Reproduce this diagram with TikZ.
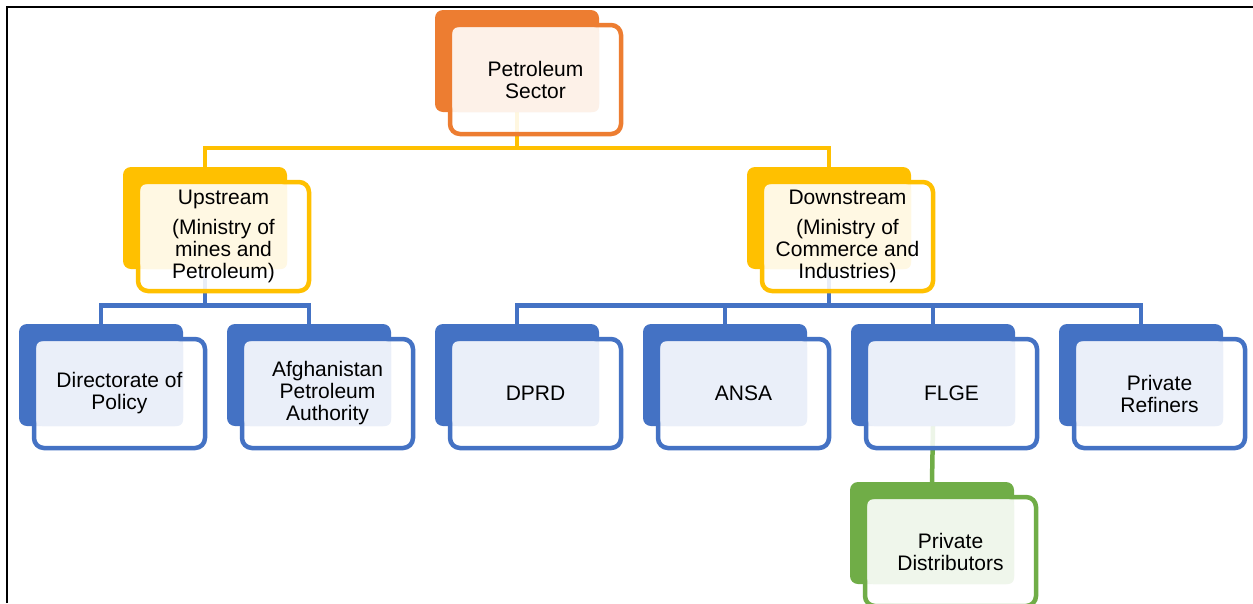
\documentclass[tikz,border=0pt]{standalone}
\usepackage{fontspec}
\setmainfont{Liberation Sans}
\usetikzlibrary{calc,backgrounds}
\definecolor{cOr}{HTML}{ED7D31}
\definecolor{cYe}{HTML}{FFC000}
\definecolor{cBl}{HTML}{4472C4}
\definecolor{cGr}{HTML}{70AD47}
\tikzset{
  backbox/.style={rectangle, rounded corners=8pt, draw=none, outer sep=0pt, inner sep=0pt,
    minimum width=164pt, minimum height=102pt, anchor=north west},
  frontbox/.style={rectangle, rounded corners=10pt, fill=white, fill opacity=0.88, line width=4.5pt,
    outer sep=0pt, inner sep=0pt, minimum width=171pt, minimum height=109pt, anchor=north west},
  lbl/.style={align=center, inner sep=0pt, text=black, font=\fontsize{21}{22}\selectfont},
  conn/.style={line width=4.5pt},
}
\newcommand{\orgbox}[5]{%
  \node[backbox, fill=#4] (#1-b) at (#2,#3) {};
  \node[frontbox, draw=#4] (#1-f) at ($(#1-b.north west)+(15,15)$) {};
  \fill[#4!11!white, rounded corners=6pt] ($(#1-f.north west)+(2.25,2.25)$) rectangle (#1-b.south east);
  \node[lbl] (#1) at (#1-f.center) {#5};
}
\begin{document}
\begin{tikzpicture}[x=1pt,y=-1pt]
\useasboundingbox (0,0) rectangle (1253,603);
\clip (0,0) rectangle (1253,603);
\draw[line width=2pt, black] (6.5,603) -- (6.5,6.5) -- (1253,6.5);

\orgbox{P}{435}{10}{cOr}{Petroleum\\Sector}
\orgbox{U}{123}{167}{cYe}{Upstream\\[8pt](Ministry of\\mines and\\Petroleum)}
\orgbox{D}{747}{167}{cYe}{Downstream\\[8pt](Ministry of\\Commerce and\\Industries)}
\orgbox{Dir}{19}{324}{cBl}{Directorate of\\Policy}
\orgbox{API}{227}{324}{cBl}{Afghanistan\\Petroleum\\Authority}
\orgbox{DPRD}{435}{324}{cBl}{DPRD}
\orgbox{ANSA}{643}{324}{cBl}{ANSA}
\orgbox{FLGE}{851}{324}{cBl}{FLGE}
\orgbox{REF}{1059}{324}{cBl}{Private\\Refiners}
\orgbox{DIST}{850}{482}{cGr}{Private\\Distributors}

\coordinate (ybar) at (0,148);
\coordinate (bbar) at (0,305.5);
\begin{pgfonlayer}{background}
  \fill[white] (0,0) rectangle (1253,603);
  \draw[conn, cYe] (P-b.south) -- (P-b.south |- ybar);
  \draw[conn, cYe] (U-b.north) |- (D-b.north |- ybar) -- (D-b.north);
  \draw[conn, cBl] (U-b.south) -- (U-b.south |- bbar);
  \draw[conn, cBl] (Dir-b.north) |- (API-b.north |- bbar) -- (API-b.north);
  \draw[conn, cBl] (D-b.south) -- (D-b.south |- bbar);
  \draw[conn, cBl] (DPRD-b.north) |- (REF-b.north |- bbar) -- (REF-b.north);
  \draw[conn, cBl] (ANSA-b.north) -- (ANSA-b.north |- bbar);
  \draw[conn, cBl] (FLGE-b.north) -- (FLGE-b.north |- bbar);
  \draw[conn, cGr] (FLGE-b.south) -- (DIST-b.north);
\end{pgfonlayer}
\end{tikzpicture}
\end{document}
